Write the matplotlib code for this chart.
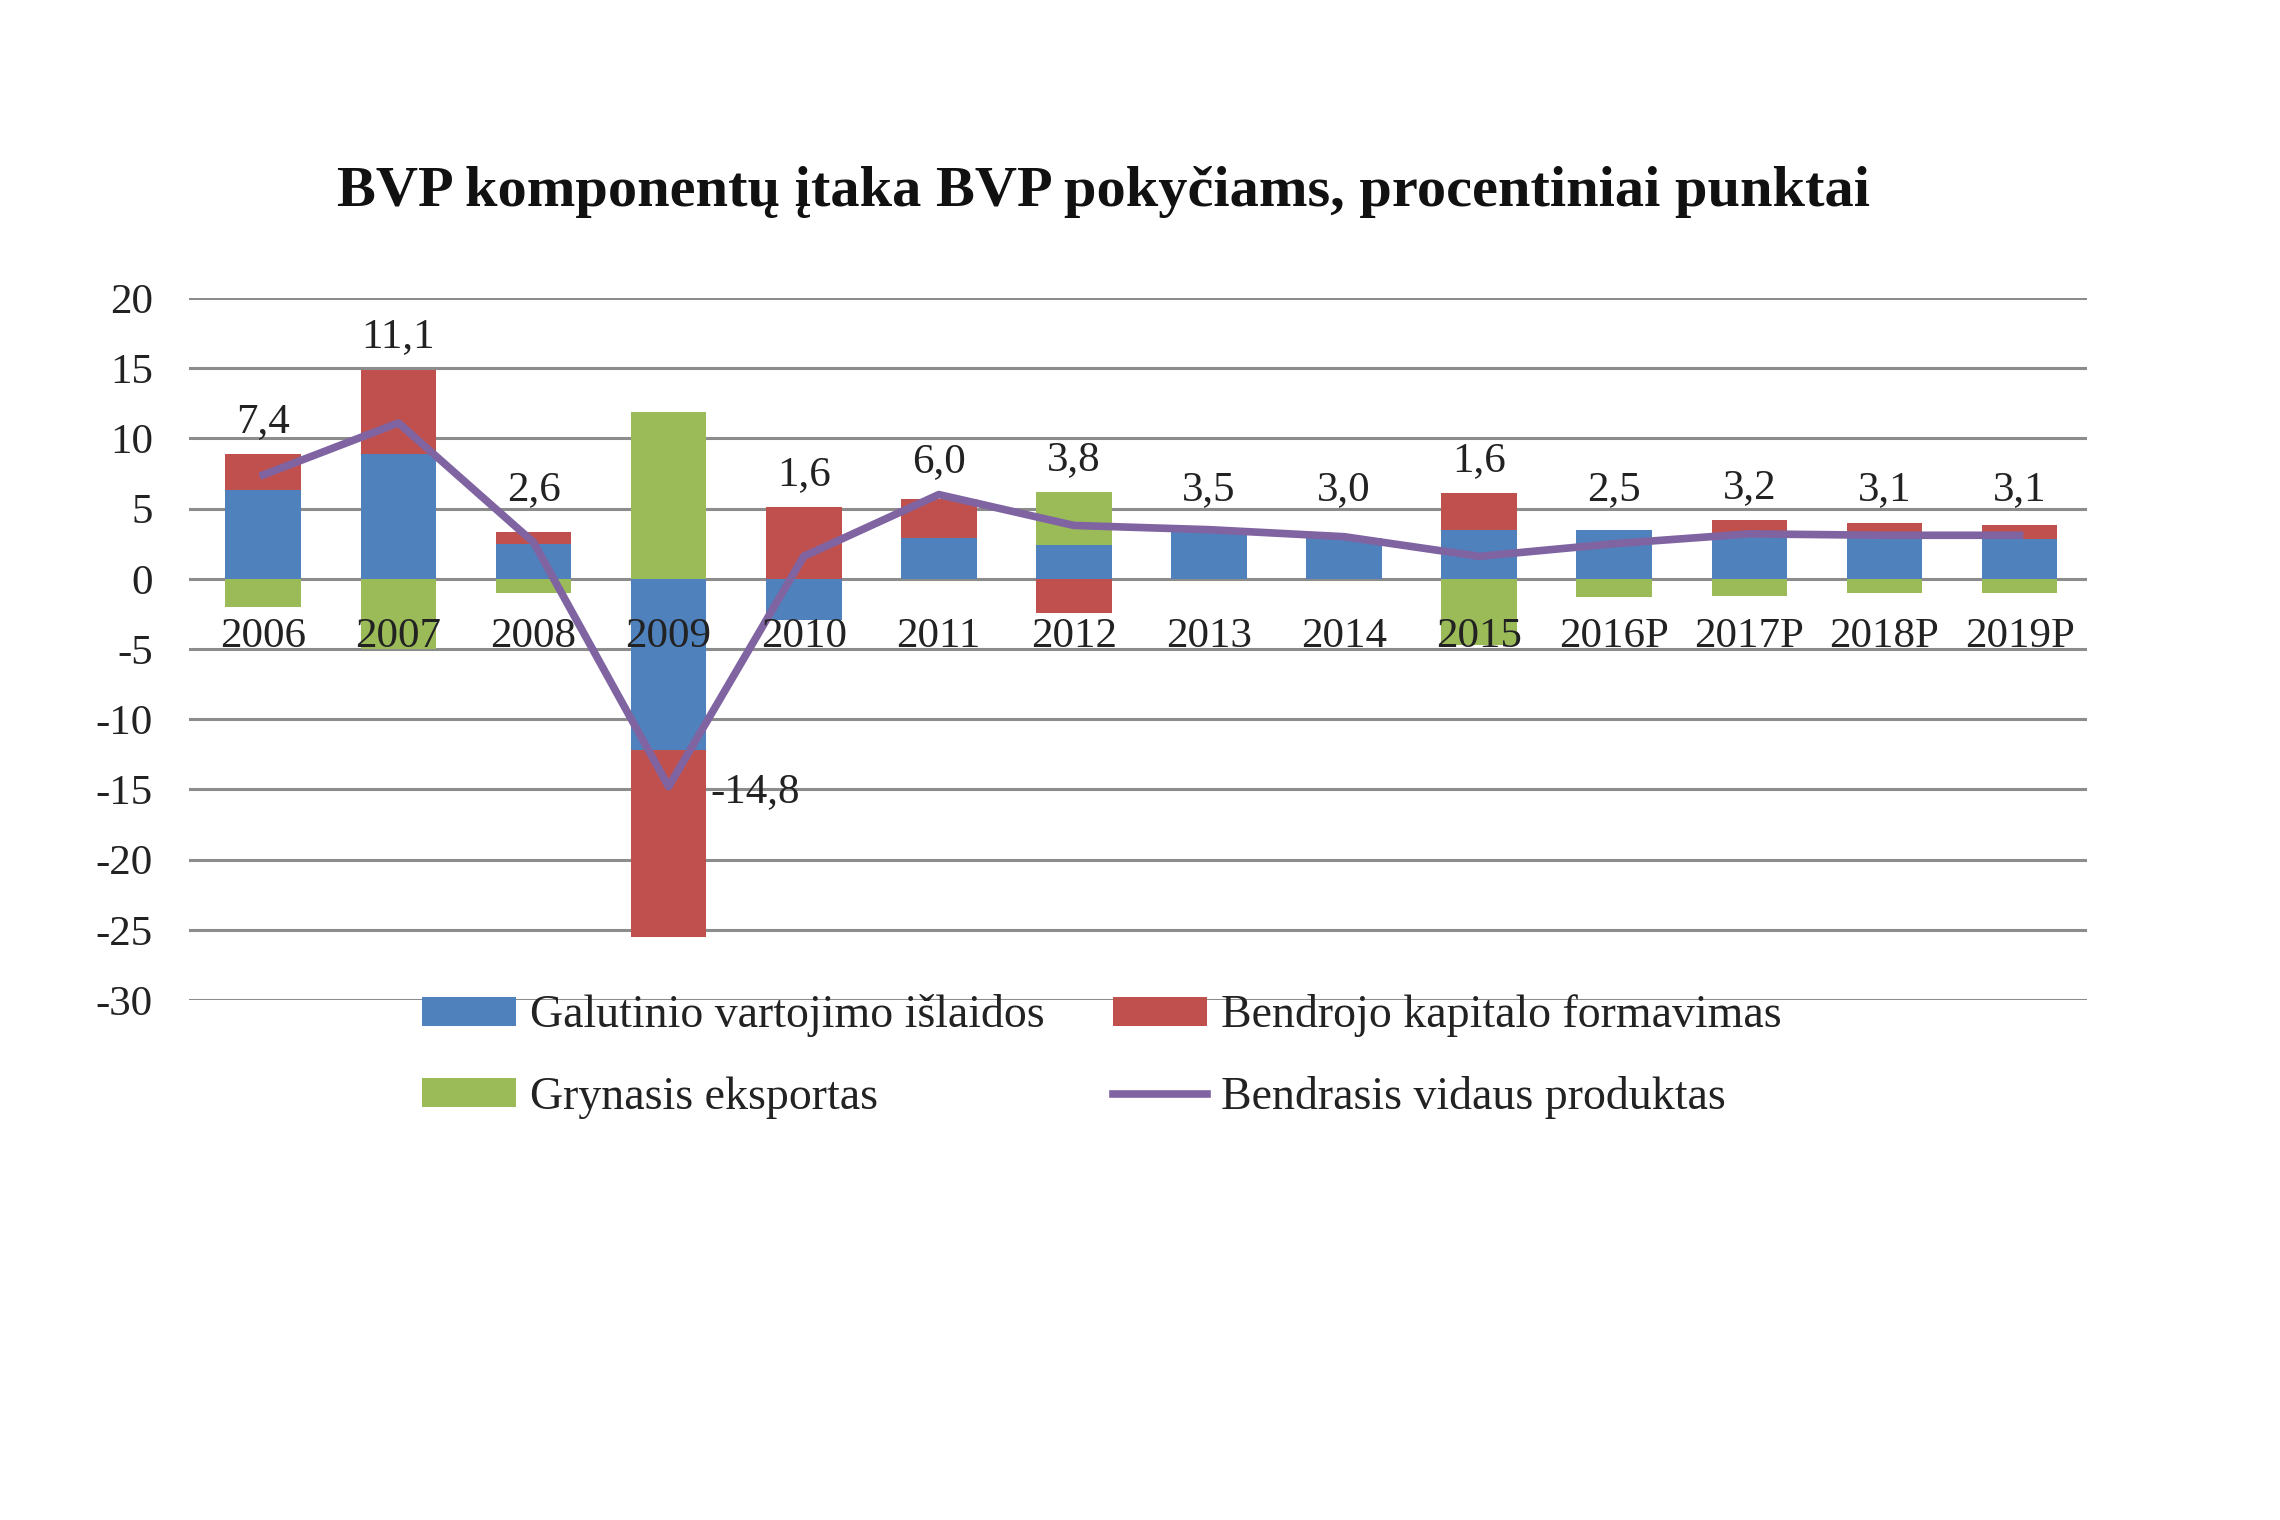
import matplotlib
matplotlib.use("Agg")
import matplotlib.pyplot as plt
import numpy as np

plt.rcParams['font.family'] = ['Liberation Serif', 'DejaVu Serif']
plt.rcParams['axes.unicode_minus'] = False

years = ["2006", "2007", "2008", "2009", "2010", "2011", "2012", "2013", "2014",
         "2015", "2016P", "2017P", "2018P", "2019P"]
# component contributions, percentage points
consumption = [6.3, 8.9, 2.5, -12.2, -2.9, 2.9, 2.4, 3.3, 2.9, 3.5, 3.5, 3.1, 3.2, 2.8]
capital = [2.6, 6.0, 0.8, -13.3, 5.1, 2.8, -2.4, 0.3, 0.0, 2.6, 0.0, 1.1, 0.8, 1.0]
net_exports = [-2.0, -5.0, -1.0, 11.9, 0.0, 0.0, 3.8, 0.0, 0.0, -4.7, -1.3, -1.2, -1.0, -1.0]
gdp = [7.4, 11.1, 2.6, -14.8, 1.6, 6.0, 3.8, 3.5, 3.0, 1.6, 2.5, 3.2, 3.1, 3.1]

names = ["Galutinio vartojimo išlaidos", "Bendrojo kapitalo formavimas",
         "Grynasis eksportas", "Bendrasis vidaus produktas"]
colors = ["#4F81BD", "#C0504D", "#9BBB59", "#8064A2"]

fig = plt.figure(figsize=(22.8, 15.2), dpi=100)
ax = fig.add_axes([0.0829, 0.342, 0.8325, 0.462])

x = np.arange(len(years))
pos_base = np.zeros(len(years))
neg_base = np.zeros(len(years))
bars = []
for vals, col, name in zip([consumption, capital, net_exports], colors[:3], names[:3]):
    v = np.array(vals)
    bottom = np.where(v >= 0, pos_base, neg_base)
    b = ax.bar(x, v, 0.56, bottom=bottom, color=col, label=name, zorder=2)
    bars.append(b)
    pos_base += np.where(v > 0, v, 0)
    neg_base += np.where(v < 0, v, 0)

line, = ax.plot(x, gdp, color=colors[3], lw=5.5, zorder=3, label=names[3])

# data labels
for i, g in enumerate(gdp):
    lbl = f"{g:.1f}".replace(".", ",")
    if g < -5:
        ax.text(i + 0.31, g - 0.4, lbl, ha="left", va="center", fontsize=31, color="#222222")
    else:
        y = max(pos_base[i], g) + 2.3
        y = max(y, 6.3)
        ax.text(i, y, lbl, ha="center", va="center", fontsize=31, color="#222222")

# category labels sitting next to the zero line
for i, yr in enumerate(years):
    ax.text(i, -4.1, yr, ha="center", va="center", fontsize=31, color="#222222", zorder=4)

ax.set_xlim(-0.55, 13.5)
ax.set_ylim(-30, 20)
ax.set_yticks(np.arange(-30, 21, 5))
ax.set_xticks([])
ax.yaxis.grid(True, color="#8c8c8c", lw=2.2, zorder=0)
ax.set_axisbelow(True)
for s in ax.spines.values():
    s.set_visible(False)
ax.tick_params(axis="y", length=0, pad=26, labelsize=31, labelcolor="#222222")

fig.text(0.484, 0.874, "BVP komponentų įtaka BVP pokyčiams, procentiniai punktai",
         ha="center", va="center", fontsize=42, fontweight="bold", color="#111111")

leg = fig.legend([bars[0], bars[2], bars[1], line], [names[0], names[2], names[1], names[3]],
                 ncol=2, loc="upper left", bbox_to_anchor=(0.167, 0.373), frameon=False,
                 fontsize=33, handlelength=2.05, handleheight=0.6, handletextpad=0.3,
                 labelspacing=0.85, columnspacing=1.5)
for t in leg.get_texts():
    t.set_color("#222222")

fig.savefig("out.png", dpi=100, facecolor="white")
